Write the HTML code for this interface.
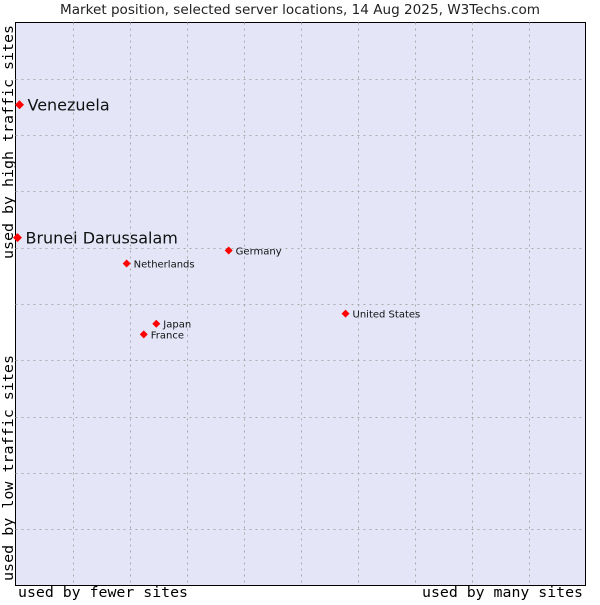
<!DOCTYPE html>
<html><head><meta charset="utf-8"><style>
body{margin:0;background:#fff;width:600px;height:600px;overflow:hidden}
svg text{font-family:"DejaVu Sans","Liberation Sans",sans-serif}
.mono{font-family:"DejaVu Sans Mono","Liberation Mono",monospace}
</style></head><body>
<svg id="chart" width="600" height="600" xmlns="http://www.w3.org/2000/svg">
<text x="60" y="14" font-size="13" fill="#222" textLength="480" lengthAdjust="spacingAndGlyphs">Market position, selected server locations, 14 Aug 2025, W3Techs.com</text>
<rect x="15.5" y="22.5" width="570" height="563" fill="#e4e6f8" stroke="#000" stroke-width="1"/>
<g id="grid"></g>
<g id="points"></g>
<text class="mono" x="18" y="597" font-size="14" fill="#000" textLength="170" lengthAdjust="spacingAndGlyphs">used by fewer sites</text>
<text class="mono" x="422" y="597" font-size="14" fill="#000" textLength="161" lengthAdjust="spacingAndGlyphs">used by many sites</text>
<text class="mono" transform="translate(13,259) rotate(-90)" font-size="14" fill="#000" textLength="234" lengthAdjust="spacingAndGlyphs">used by high traffic sites</text>
<text class="mono" transform="translate(13,581) rotate(-90)" font-size="14" fill="#000" textLength="226" lengthAdjust="spacingAndGlyphs">used by low traffic sites</text>
</svg>
<script>
const names=["Venezuela","Brunei Darussalam","Germany","Netherlands","United States","Japan","France"];
const xVals=[0.7,0.35,37.4,19.5,57.9,24.7,22.5];
const yVals=[85.4,61.8,59.5,57.2,48.3,46.5,44.6];
const big=[true,true,false,false,false,false,false];
const L=15.5,T=22.5,W=570,H=563;
const sx=v=>L+v/100*W, sy=v=>T+H-v/100*H;
const ns="http://www.w3.org/2000/svg";
const g=document.getElementById('grid');
for(let i=1;i<10;i++){
 const vx=document.createElementNS(ns,'line');
 
 
 const x=Math.round(L+i*57)+0.5;
 vx.setAttribute('x1',x);vx.setAttribute('x2',x);vx.setAttribute('y1',T);vx.setAttribute('y2',T+H);
 vx.setAttribute('stroke','#aaa');vx.setAttribute('stroke-dasharray','2,4');g.appendChild(vx);
 const hy=document.createElementNS(ns,'line');
 
 
 const y=Math.round(T+i*56.3)+0.5;
 hy.setAttribute('x1',L);hy.setAttribute('x2',L+W);hy.setAttribute('y1',y);hy.setAttribute('y2',y);
 hy.setAttribute('stroke','#aaa');hy.setAttribute('stroke-dasharray','2,4');g.appendChild(hy);
}
const p=document.getElementById('points');
names.forEach((n,i)=>{
 const x=sx(xVals[i]),y=sy(yVals[i]),r=big[i]?4.5:4;
 const d=document.createElementNS(ns,'path');
 
 
 d.setAttribute('d',`M${x-r} ${y}L${x} ${y-r}L${x+r} ${y}L${x} ${y+r}Z`);
 d.setAttribute('fill','#f00');p.appendChild(d);
 const t=document.createElementNS(ns,'text');
 
 
 t.setAttribute('x',x+(big[i]?8:7));t.setAttribute('y',y+(big[i]?6:4));
 t.setAttribute('font-size',big[i]?16:10);t.setAttribute('fill','#111');
 t.textContent=n;p.appendChild(t);
});
</script>
</body></html>
